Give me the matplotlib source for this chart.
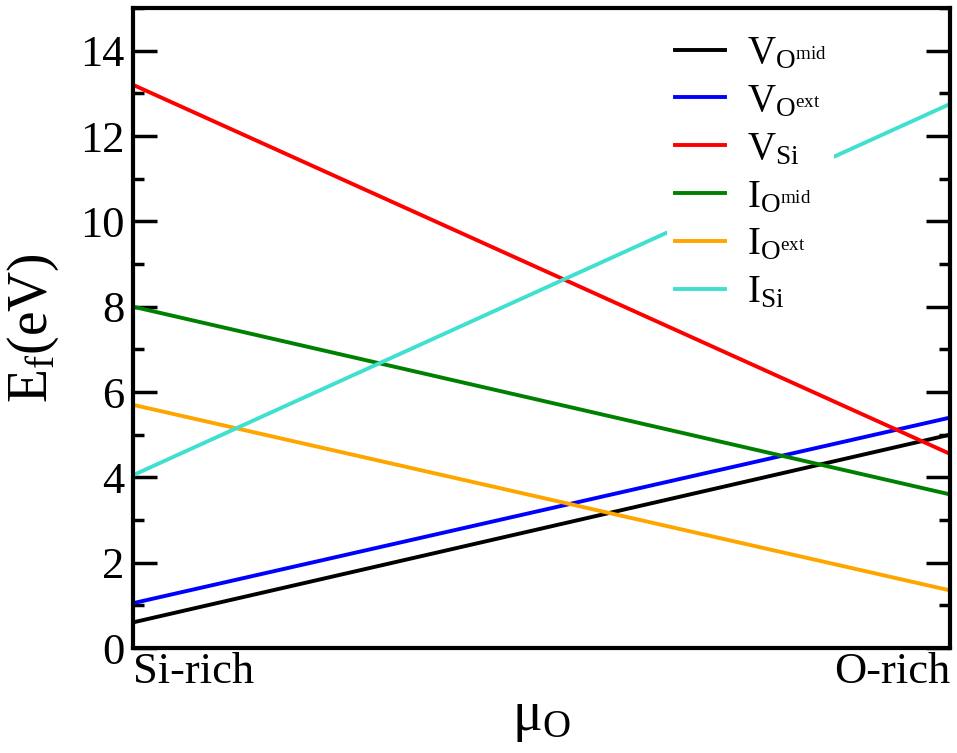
import matplotlib.pyplot as plt
from matplotlib.ticker import MultipleLocator

plt.rcParams['font.family'] = 'Liberation Serif'
plt.rcParams['mathtext.fontset'] = 'custom'
plt.rcParams['mathtext.rm'] = 'Liberation Serif'
plt.rcParams['mathtext.it'] = 'Liberation Serif:italic'

# formation energies at Si-rich (x=0) and O-rich (x=1) limits
mu = [0, 1]
labels = [r'$\mathrm{V_{O^{mid}}}$', r'$\mathrm{V_{O^{ext}}}$', r'$\mathrm{V_{Si}}$',
          r'$\mathrm{I_{O^{mid}}}$', r'$\mathrm{I_{O^{ext}}}$', r'$\mathrm{I_{Si}}$']
colors = ['black', 'blue', 'red', 'green', 'orange', 'turquoise']
ef_si_rich = [0.6, 1.05, 13.2, 8.0, 5.7, 4.05]
ef_o_rich = [5.0, 5.4, 4.55, 3.6, 1.35, 12.75]

fig = plt.figure(figsize=(9.57, 7.53), dpi=100)
ax = fig.add_axes([133 / 957, 1 - 648 / 753, (950 - 133) / 957, (648 - 8) / 753])

for lab, c, a, b in zip(labels, colors, ef_si_rich, ef_o_rich):
    ax.plot(mu, [a, b], color=c, lw=2.8, label=lab)

ax.set_xlim(0, 1)
ax.set_ylim(0, 15)
ax.yaxis.set_major_locator(MultipleLocator(2))
ax.yaxis.set_minor_locator(MultipleLocator(1))
ax.set_xticks([0, 1])
ax.set_xticklabels(['Si-rich', 'O-rich'], fontsize=32)
ax.get_xticklabels()[0].set_horizontalalignment('left')
ax.get_xticklabels()[1].set_horizontalalignment('right')
ax.tick_params(axis='x', length=0, pad=3)
ax.tick_params(axis='y', which='major', direction='in', length=17, width=2.5,
               labelsize=32, right=True, pad=6)
ax.tick_params(axis='y', which='minor', direction='in', length=8, width=2.5, right=True)
for s in ax.spines.values():
    s.set_linewidth(3)

ax.set_ylabel(r'$\mathrm{E_f(eV)}$', fontsize=40, labelpad=14)
ax.set_xlabel(r'$\mathrm{\mu_O}$', fontsize=40, labelpad=0)

leg = ax.legend(loc='upper right', fontsize=28, frameon=True, fancybox=False,
                framealpha=1, edgecolor='none', handlelength=1.3,
                labelspacing=0.28, borderpad=0.2, handletextpad=0.55,
                bbox_to_anchor=(0.882, 1.0))

fig.savefig('out.png', dpi=100)
